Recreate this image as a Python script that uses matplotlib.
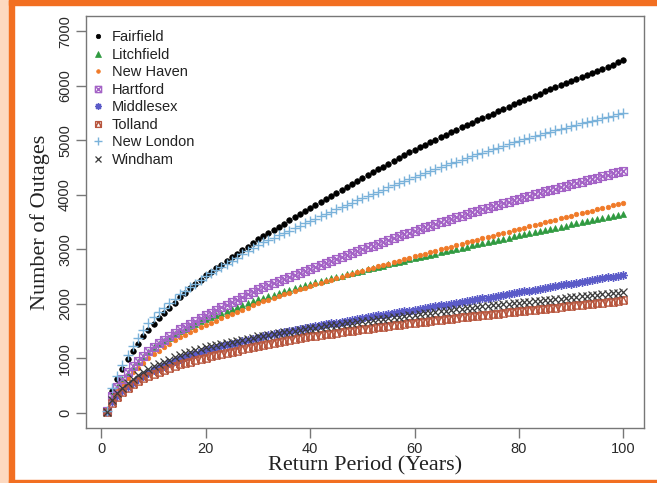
import matplotlib
matplotlib.use("Agg")
import matplotlib.pyplot as plt
import numpy as np
from matplotlib.path import Path
from matplotlib.lines import Line2D
from matplotlib.patches import Rectangle

# return periods 1..100 years
years = list(range(1, 101))

fairfield = [30, 400, 620, 810, 980, 1130, 1270, 1400, 1520, 1630,
             1730, 1825, 1925, 2020, 2120, 2200, 2280, 2360, 2440, 2520,
             2586, 2652, 2718, 2784, 2850, 2916, 2982, 3048, 3114, 3180,
             3238, 3296, 3354, 3412, 3470, 3528, 3586, 3644, 3702, 3760,
             3815, 3870, 3925, 3980, 4035, 4090, 4145, 4200, 4255, 4310,
             4362, 4414, 4466, 4518, 4570, 4622, 4674, 4726, 4778, 4830,
             4875, 4920, 4965, 5010, 5055, 5100, 5145, 5190, 5235, 5280,
             5322, 5364, 5406, 5448, 5490, 5532, 5574, 5616, 5658, 5700,
             5739, 5778, 5817, 5856, 5895, 5934, 5973, 6012, 6051, 6090,
             6128, 6165, 6203, 6240, 6278, 6315, 6353, 6390, 6428, 6465]

litchfield = [25, 300, 470, 610, 730, 840, 940, 1030, 1120, 1200,
              1260, 1320, 1380, 1440, 1500, 1544, 1588, 1632, 1676, 1720,
              1756, 1792, 1828, 1864, 1900, 1936, 1972, 2008, 2044, 2080,
              2109, 2138, 2167, 2196, 2225, 2254, 2283, 2312, 2341, 2370,
              2394, 2418, 2442, 2466, 2490, 2514, 2538, 2562, 2586, 2610,
              2633, 2655, 2678, 2700, 2723, 2745, 2768, 2790, 2813, 2835,
              2857, 2878, 2900, 2921, 2943, 2964, 2986, 3007, 3029, 3050,
              3071, 3091, 3112, 3132, 3153, 3173, 3194, 3214, 3235, 3255,
              3275, 3295, 3315, 3335, 3355, 3375, 3395, 3415, 3435, 3455,
              3475, 3494, 3514, 3533, 3553, 3572, 3592, 3611, 3631, 3650]

new_haven = [20, 260, 400, 530, 640, 740, 830, 920, 1000, 1080,
             1142, 1204, 1266, 1328, 1390, 1434, 1478, 1522, 1566, 1610,
             1650, 1690, 1730, 1770, 1810, 1850, 1890, 1930, 1970, 2010,
             2042, 2074, 2106, 2138, 2170, 2202, 2234, 2266, 2298, 2330,
             2358, 2385, 2413, 2440, 2468, 2495, 2523, 2550, 2578, 2605,
             2632, 2658, 2685, 2711, 2738, 2764, 2791, 2817, 2844, 2870,
             2896, 2921, 2947, 2972, 2998, 3023, 3049, 3074, 3100, 3125,
             3150, 3175, 3200, 3225, 3250, 3275, 3300, 3325, 3350, 3375,
             3399, 3423, 3447, 3471, 3495, 3519, 3543, 3567, 3591, 3615,
             3639, 3662, 3686, 3709, 3733, 3756, 3780, 3803, 3827, 3850]

hartford = [30, 310, 480, 620, 740, 850, 950, 1040, 1130, 1210,
            1274, 1338, 1402, 1466, 1530, 1582, 1634, 1686, 1738, 1790,
            1838, 1885, 1933, 1980, 2028, 2075, 2123, 2170, 2218, 2265,
            2303, 2340, 2378, 2415, 2453, 2490, 2528, 2565, 2603, 2640,
            2676, 2712, 2748, 2784, 2820, 2856, 2892, 2928, 2964, 3000,
            3034, 3068, 3102, 3136, 3170, 3204, 3238, 3272, 3306, 3340,
            3371, 3402, 3433, 3464, 3495, 3526, 3557, 3588, 3619, 3650,
            3678, 3706, 3734, 3762, 3790, 3818, 3846, 3874, 3902, 3930,
            3956, 3982, 4008, 4034, 4060, 4086, 4112, 4138, 4164, 4190,
            4215, 4240, 4265, 4290, 4315, 4340, 4365, 4390, 4415, 4440]

middlesex = [15, 190, 300, 390, 470, 540, 610, 670, 730, 780,
             822, 864, 906, 948, 990, 1022, 1054, 1086, 1118, 1150,
             1173, 1196, 1219, 1242, 1265, 1288, 1311, 1334, 1357, 1380,
             1399, 1418, 1437, 1456, 1475, 1494, 1513, 1532, 1551, 1570,
             1587, 1604, 1621, 1638, 1655, 1672, 1689, 1706, 1723, 1740,
             1755, 1770, 1785, 1800, 1815, 1830, 1845, 1860, 1875, 1890,
             1906, 1922, 1938, 1954, 1970, 1986, 2002, 2018, 2034, 2050,
             2066, 2082, 2098, 2114, 2130, 2146, 2162, 2178, 2194, 2210,
             2226, 2242, 2258, 2274, 2290, 2306, 2322, 2338, 2354, 2370,
             2386, 2402, 2418, 2434, 2450, 2466, 2482, 2498, 2514, 2530]

tolland = [15, 180, 290, 380, 450, 520, 580, 630, 680, 720,
           754, 788, 822, 856, 890, 914, 938, 962, 986, 1010,
           1032, 1054, 1076, 1098, 1120, 1142, 1164, 1186, 1208, 1230,
           1247, 1264, 1281, 1298, 1315, 1332, 1349, 1366, 1383, 1400,
           1413, 1426, 1439, 1452, 1465, 1478, 1491, 1504, 1517, 1530,
           1542, 1554, 1566, 1578, 1590, 1602, 1614, 1626, 1638, 1650,
           1661, 1672, 1683, 1694, 1705, 1716, 1727, 1738, 1749, 1760,
           1770, 1780, 1790, 1800, 1810, 1820, 1830, 1840, 1850, 1860,
           1870, 1880, 1890, 1900, 1910, 1920, 1930, 1940, 1950, 1960,
           1970, 1980, 1990, 2000, 2010, 2020, 2030, 2040, 2050, 2060]

new_london = [40, 450, 680, 880, 1060, 1220, 1370, 1510, 1640, 1760,
              1842, 1924, 2006, 2088, 2170, 2236, 2302, 2368, 2434, 2500,
              2558, 2616, 2674, 2732, 2790, 2848, 2906, 2964, 3022, 3080,
              3124, 3168, 3212, 3256, 3300, 3344, 3388, 3432, 3476, 3520,
              3562, 3604, 3646, 3688, 3730, 3772, 3814, 3856, 3898, 3940,
              3979, 4018, 4057, 4096, 4135, 4174, 4213, 4252, 4291, 4330,
              4365, 4400, 4435, 4470, 4505, 4540, 4575, 4610, 4645, 4680,
              4711, 4742, 4773, 4804, 4835, 4866, 4897, 4928, 4959, 4990,
              5017, 5044, 5071, 5098, 5125, 5152, 5179, 5206, 5233, 5260,
              5284, 5308, 5332, 5356, 5380, 5404, 5428, 5452, 5476, 5500]

windham = [20, 230, 360, 460, 550, 620, 690, 750, 800, 850,
           892, 934, 976, 1018, 1060, 1088, 1116, 1144, 1172, 1200,
           1220, 1240, 1260, 1280, 1300, 1320, 1340, 1360, 1380, 1400,
           1415, 1430, 1445, 1460, 1475, 1490, 1505, 1520, 1535, 1550,
           1563, 1576, 1589, 1602, 1615, 1628, 1641, 1654, 1667, 1680,
           1692, 1704, 1716, 1728, 1740, 1752, 1764, 1776, 1788, 1800,
           1812, 1824, 1836, 1848, 1860, 1872, 1884, 1896, 1908, 1920,
           1930, 1940, 1950, 1960, 1970, 1980, 1990, 2000, 2010, 2020,
           2030, 2039, 2049, 2058, 2068, 2077, 2087, 2096, 2106, 2115,
           2124, 2133, 2143, 2152, 2161, 2170, 2179, 2189, 2198, 2207]

counties = ["Fairfield", "Litchfield", "New Haven", "Hartford",
            "Middlesex", "Tolland", "New London", "Windham"]
series = [fairfield, litchfield, new_haven, hartford,
          middlesex, tolland, new_london, windham]

# R-like plotting symbols
M, L = Path.MOVETO, Path.LINETO
box_x = Path([(-1, -1), (1, -1), (1, 1), (-1, 1), (-1, -1), (-1, -1), (1, 1), (-1, 1), (1, -1)],
             [M, L, L, L, L, M, L, M, L])
box_tri = Path([(-1, -1), (1, -1), (1, 1), (-1, 1), (-1, -1), (-1, -1), (0, 1), (1, -1)],
               [M, L, L, L, L, M, L, L])

styles = [
    dict(marker="o", color="black", ms=4.0, mfc="black", mew=0.5),
    dict(marker="^", color="#2f9a40", ms=4.8, mfc="#2f9a40", mew=0.5),
    dict(marker="o", color="#f07a28", ms=3.3, mfc="#f07a28", mew=0.5),
    dict(marker=box_x, color="#a463c6", ms=5.6, mfc="none", mew=1.0),
    dict(marker=(8, 2, 0), color="#5b5bc8", ms=6.0, mfc="none", mew=1.0),
    dict(marker=box_tri, color="#b8573f", ms=5.2, mfc="none", mew=1.0),
    dict(marker="+", color="#7ab2da", ms=7.0, mfc="none", mew=1.0),
    dict(marker="x", color="#3a3a3a", ms=5.2, mfc="none", mew=0.9),
]

fig = plt.figure(figsize=(6.57, 4.83), dpi=100)
fig.patch.set_facecolor("white")

# orange frame around the figure
fig.patches.append(Rectangle((0, 0), 9/657, 1, transform=fig.transFigure, color="#fdd9c0", zorder=0))
fig.patches.append(Rectangle((9/657, 0), 5/657, 1, transform=fig.transFigure, color="#f26f21", zorder=0))
fig.patches.append(Rectangle((9/657, 1 - 5/483), 1, 5/483, transform=fig.transFigure, color="#f26f21", zorder=0))
fig.patches.append(Rectangle((9/657, 0), 1, 3/483, transform=fig.transFigure, color="#f26f21", zorder=0))

ax = fig.add_axes([86/657, 1 - 428/483, (644 - 86)/657, (428 - 16)/483])

handles = []
for name, vals, st in zip(counties, series, styles):
    ax.plot(years, vals, linestyle="none", marker=st["marker"], color=st["color"],
            markersize=st["ms"], markerfacecolor=st["mfc"], markeredgewidth=st["mew"])
    handles.append(Line2D([], [], linestyle="none", marker=st["marker"], color=st["color"],
                          markersize=st["ms"] * 0.8, markerfacecolor=st["mfc"],
                          markeredgewidth=st["mew"], label=name))

ax.set_xlim(-2.96, 103.96)
ax.set_ylim(-280, 7280)
ax.set_xticks(range(0, 101, 20))
ax.set_yticks(range(0, 7001, 1000))
for sp in ax.spines.values():
    sp.set_color("#777777")
    sp.set_linewidth(1.0)
ax.tick_params(direction="out", length=7, width=1, color="#777777", labelcolor="#2a2a2a",
               labelsize=10.5, pad=3)
for lab in ax.get_yticklabels():
    lab.set_rotation(90)
    lab.set_va("center")
for lab in ax.get_xticklabels() + ax.get_yticklabels():
    lab.set_family("Liberation Sans")

ax.set_xlabel("Return Period (Years)", family="Liberation Serif", fontsize=16, color="#222222", labelpad=0.5)
ax.set_ylabel("Number of Outages", family="Liberation Serif", fontsize=16, color="#222222", labelpad=5.5)

leg = ax.legend(handles=handles, loc="upper left", frameon=False,
                prop={"family": "Liberation Sans", "size": 10.5},
                handlelength=1.0, handletextpad=0.45, labelspacing=0.24,
                borderaxespad=0.3, bbox_to_anchor=(-0.0099, 0.9896))
for t in leg.get_texts():
    t.set_color("#222222")

plt.savefig("out.png", dpi=100)
